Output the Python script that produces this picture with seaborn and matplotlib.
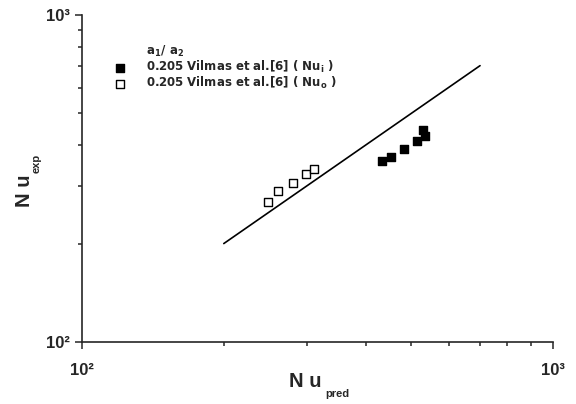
import matplotlib
matplotlib.use("Agg")
import matplotlib.pyplot as plt
import seaborn as sns
import numpy as np
import pandas as pd
from matplotlib.ticker import LogLocator, NullFormatter, FixedLocator

# Data
open_pred = [248.7, 261.1, 280.5, 299.0, 310.9]
open_exp = [268.5, 289.6, 305.7, 325.3, 337.9]
filled_pred = [432.9, 452.9, 483.4, 514.4, 528.9, 535.0]
filled_exp = [357.8, 368.8, 390.2, 412.8, 445.0, 426.6]
line_x = [200, 700]
line_y = [200, 700]
tick_vals = [100, 1000]
tick_labels = ["10\u00b2", "10\u00b3"]
label_filled = r"0.205 Vilmas et al.[6] ( Nu$_\mathregular{i}$ )"
label_open = r"0.205 Vilmas et al.[6] ( Nu$_\mathregular{o}$ )"
legend_title = r"        a$_\mathregular{1}$/ a$_\mathregular{2}$"

sns.set_style("ticks")
plt.rcParams["font.family"] = ["Liberation Sans", "DejaVu Sans"]
plt.rcParams["font.weight"] = "bold"
plt.rcParams["mathtext.fontset"] = "custom"
plt.rcParams["mathtext.rm"] = "DejaVu Sans:bold"
plt.rcParams["mathtext.it"] = "DejaVu Sans:bold"
plt.rcParams["mathtext.bf"] = "DejaVu Sans:bold"
plt.rcParams["mathtext.default"] = "rm"

W, H = 576, 404
fig = plt.figure(figsize=(W / 100, H / 100), dpi=100)
ax = fig.add_axes([82 / W, 1 - 342 / H, (553 - 82) / W, (342 - 15) / H])

def fx(px):
    return px / W

def fy(py):
    return 1 - py / H

df_line = pd.DataFrame({"x": line_x, "y": line_y})
sns.lineplot(data=df_line, x="x", y="y", ax=ax, color="black", linewidth=1.2, legend=False)

df_f = pd.DataFrame({"x": filled_pred, "y": filled_exp})
df_o = pd.DataFrame({"x": open_pred, "y": open_exp})
sns.scatterplot(data=df_f, x="x", y="y", ax=ax, marker="s", s=36, color="black",
                edgecolor="black", linewidth=1.0, label=label_filled)
sns.scatterplot(data=df_o, x="x", y="y", ax=ax, marker="s", s=36, facecolor="white",
                edgecolor="black", linewidth=1.0, label=label_open)

ax.set_xscale("log")
ax.set_yscale("log")
ax.set_xlim(100, 1000)
ax.set_ylim(100, 1000)

ax.xaxis.set_major_locator(FixedLocator(tick_vals))
ax.yaxis.set_major_locator(FixedLocator(tick_vals))
ax.xaxis.set_minor_locator(LogLocator(base=10, subs=np.arange(2, 10)))
ax.yaxis.set_minor_locator(LogLocator(base=10, subs=np.arange(2, 10)))
ax.xaxis.set_minor_formatter(NullFormatter())
ax.yaxis.set_minor_formatter(NullFormatter())
ax.set_xticklabels(tick_labels)
ax.set_yticklabels(tick_labels)

ax.tick_params(axis="x", which="major", length=5, width=1.1, pad=10, labelsize=12)
ax.tick_params(axis="y", which="major", length=5, width=1.1, pad=3.5, labelsize=12)
ax.tick_params(which="minor", length=2.8, width=1.1)

sns.despine(ax=ax)
for s in ["left", "bottom"]:
    ax.spines[s].set_linewidth(1.2)

# Axis labels with hand-set subscripts
ax.set_xlabel("N u", fontsize=14.5, fontweight="bold")
ax.xaxis.label.set_ha("left")
ax.xaxis.label.set_va("baseline")
ax.xaxis.set_label_coords(fx(289), fy(387.3), transform=fig.transFigure)
fig.text(fx(325), fy(397), "pred", fontsize=8, fontweight="bold", ha="left", va="baseline")

ax.set_ylabel("N u", fontsize=14.5, fontweight="bold")
ax.yaxis.label.set_rotation_mode("anchor")
ax.yaxis.label.set_ha("left")
ax.yaxis.label.set_va("baseline")
ax.yaxis.set_label_coords(fx(30.5), fy(207), transform=fig.transFigure)
fig.text(fx(39.5), fy(173), "exp", fontsize=8, fontweight="bold", rotation=90,
         rotation_mode="anchor", ha="left", va="baseline")

leg = ax.legend(title=legend_title, loc="upper left",
                bbox_to_anchor=(fx(114.4), fy(44)), bbox_transform=fig.transFigure,
                frameon=False, prop={"family": "DejaVu Sans", "weight": "bold", "size": 8.5},
                title_fontproperties={"family": "DejaVu Sans", "weight": "bold", "size": 8.5},
                handlelength=1.0, handletextpad=1.68, borderaxespad=0, borderpad=0,
                labelspacing=0.0, markerscale=0.9)
leg._legend_box.align = "left"

fig.savefig("out.png", dpi=100)
